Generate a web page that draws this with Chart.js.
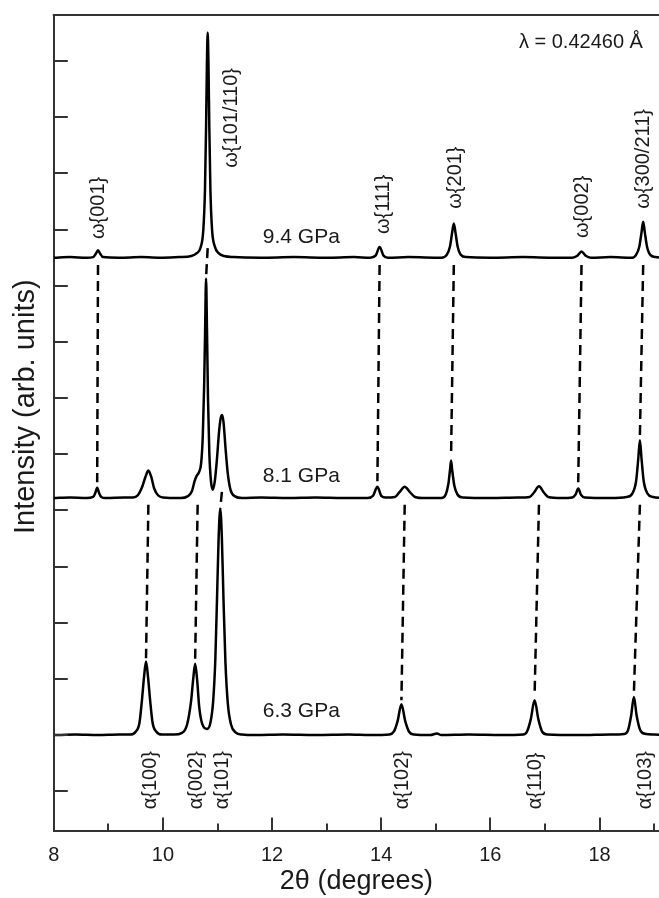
<!DOCTYPE html>
<html>
<head>
<meta charset="utf-8">
<script src="https://cdn.jsdelivr.net/npm/chart.js@4.4.0/dist/chart.umd.min.js"></script>
<style>
  html, body { margin: 0; padding: 0; background: #fff; overflow: hidden; }
</style>
</head>
<body>
<canvas id="xrd" width="659" height="898"></canvas>
<script>
// XRD patterns at three pressures, stacked with vertical offsets

// pattern points: [2theta, intensity above its own baseline]
const pts94 = [
  [8.0,0],[8.3,0.01],[8.6,0],[8.72,0.01],[8.77,0.07],[8.81,0.13],[8.85,0.07],[8.9,0.01],[9.2,0],[9.6,0.01],
  [10.0,0],[10.3,0.01],[10.52,0.03],[10.62,0.08],[10.69,0.18],[10.74,0.5],[10.77,1.2],[10.79,2.3],[10.805,3.4],
  [10.82,4.01],[10.835,3.4],[10.85,2.3],[10.87,1.2],[10.9,0.5],[10.95,0.2],[11.02,0.08],[11.12,0.03],[11.3,0.01],
  [11.8,0],[12.4,0.01],[13.0,0],[13.5,0.01],[13.8,0],[13.9,0.04],[13.97,0.19],[14.04,0.04],[14.12,0],[14.5,0.01],
  [15.1,0],[15.2,0.05],[15.26,0.2],[15.3,0.45],[15.33,0.61],[15.36,0.45],[15.4,0.2],[15.46,0.05],[15.56,0.01],
  [16.0,0],[16.6,0.01],[17.2,0],[17.5,0],[17.6,0.04],[17.67,0.11],[17.74,0.04],[17.84,0],[18.2,0.01],
  [18.6,0],[18.67,0.05],[18.73,0.2],[18.77,0.45],[18.8,0.64],[18.83,0.45],[18.87,0.2],[18.93,0.05],[19.03,0.01],[19.2,0]
];
const pts81 = [
  [8.0,0],[8.3,0.01],[8.6,0],[8.72,0.02],[8.76,0.09],[8.795,0.185],[8.83,0.09],[8.87,0.02],[8.95,0],[9.3,0.01],
  [9.45,0.01],[9.54,0.05],[9.62,0.2],[9.68,0.38],[9.733,0.49],[9.785,0.38],[9.84,0.17],[9.91,0.05],[10.0,0.01],
  [10.33,0],[10.45,0.03],[10.53,0.12],[10.58,0.3],[10.62,0.4],[10.66,0.46],[10.7,0.62],[10.73,1.1],[10.755,2.0],
  [10.773,3.0],[10.79,3.91],[10.807,3.0],[10.825,1.8],[10.85,0.8],[10.88,0.3],[10.91,0.15],[10.95,0.3],[10.99,0.7],
  [11.03,1.2],[11.06,1.43],[11.085,1.48],[11.11,1.35],[11.15,0.85],[11.19,0.42],[11.24,0.14],[11.32,0.03],[11.45,0],
  [11.8,0.01],[12.3,0],[12.8,0.01],[13.3,0],[13.75,0],[13.85,0.04],[13.93,0.2],[14.0,0.04],[14.08,0.01],
  [14.25,0.02],[14.33,0.1],[14.43,0.2],[14.53,0.1],[14.62,0.02],[14.8,0],[15.1,0],[15.18,0.06],[15.23,0.25],
  [15.26,0.5],[15.28,0.67],[15.3,0.5],[15.34,0.22],[15.4,0.06],[15.5,0.01],[16.0,0],[16.5,0.01],[16.72,0.02],
  [16.8,0.1],[16.89,0.21],[16.98,0.1],[17.06,0.02],[17.3,0],[17.5,0.01],[17.56,0.06],[17.61,0.17],[17.66,0.06],
  [17.73,0.01],[18.2,0],[18.5,0.02],[18.6,0.08],[18.67,0.3],[18.71,0.7],[18.74,1.03],[18.77,0.7],[18.81,0.3],
  [18.88,0.08],[18.98,0.02],[19.2,0]
];
const pts63 = [
  [8.0,0],[8.4,0.01],[8.8,0],[9.2,0.01],[9.4,0.01],[9.5,0.06],[9.57,0.22],[9.615,0.62],[9.655,1.05],[9.69,1.31],
  [9.725,1.05],[9.765,0.62],[9.81,0.22],[9.88,0.06],[9.98,0.01],[10.2,0.01],[10.35,0.04],[10.44,0.18],[10.515,0.6],
  [10.555,1.0],[10.59,1.27],[10.625,1.0],[10.665,0.5],[10.72,0.2],[10.81,0.11],[10.87,0.22],[10.92,0.6],[10.96,1.35],
  [10.99,2.4],[11.02,3.5],[11.05,4.03],[11.08,3.5],[11.11,2.4],[11.145,1.3],[11.19,0.55],[11.25,0.18],[11.33,0.05],
  [11.45,0.01],[11.7,0],[12.2,0.01],[12.8,0],[13.4,0.01],[13.8,0],[14.15,0.01],[14.23,0.06],[14.3,0.25],[14.37,0.55],
  [14.44,0.25],[14.51,0.06],[14.6,0.01],[14.9,0],[15.02,0.03],[15.1,0],[15.6,0.01],[16.2,0],[16.6,0.01],[16.67,0.06],
  [16.74,0.28],[16.81,0.62],[16.88,0.28],[16.95,0.06],[17.05,0.01],[17.6,0],[18.2,0.01],[18.45,0.02],[18.52,0.08],
  [18.58,0.35],[18.63,0.68],[18.68,0.35],[18.75,0.08],[18.85,0.02],[19.0,0.01],[19.2,0]
];
const patterns = [pts63, pts81, pts94];
const offsets = [1.0, 5.22, 9.5];
const pressures = ['6.3 GPa', '8.1 GPa', '9.4 GPa'];
const pressureAt = [[11.83, 1.32], [11.83, 5.51], [11.83, 9.76]];

// dashed guides: [x top, y top, x bottom, y bottom]
const guides = [
  [8.81, 9.37, 8.795, 5.5], [10.82, 9.67, 10.79, 9.15], [13.97, 9.37, 13.93, 5.52],
  [15.33, 9.37, 15.28, 5.97], [17.67, 9.37, 17.61, 5.5], [18.80, 9.37, 18.74, 6.33],
  [9.733, 5.1, 9.69, 2.37], [10.636, 5.1, 10.59, 2.33], [11.08, 5.33, 11.05, 5.03],
  [14.43, 5.1, 14.37, 1.62], [16.89, 5.1, 16.81, 1.70], [18.74, 5.1, 18.63, 1.75]
];

// rotated reflection labels, text starts at (x, y) and runs upward
const omegaNames = ['ω{001}', 'ω{101/110}', 'ω{111}', 'ω{201}', 'ω{002}', 'ω{300/211}'];
const omegaX = [8.823, 11.263, 14.033, 15.367, 17.689, 18.804];
const omegaY = [9.83, 11.10, 9.92, 10.37, 9.85, 10.37];
const alphaNames = ['α{100}', 'α{002}', 'α{101}', 'α{102}', 'α{110}', 'α{103}'];
const alphaX = [9.764, 10.62, 11.093, 14.384, 16.82, 18.84];
const alphaY = -0.32;

const xTicks = [8, 9, 10, 11, 12, 13, 14, 15, 16, 17, 18, 19];
const yTicks = [0, 1, 2, 3, 4, 5, 6, 7, 8, 9, 10, 11, 12, 13];

const FONT = '"Liberation Sans", Arial, sans-serif';
const INK = '#1a1a1a';
const AXIS = '#333';
Chart.defaults.font.family = FONT;
Chart.defaults.color = INK;

const curveSets = patterns.map((p, i) => ({
  data: p.map(([x, v]) => ({x, y: v + offsets[i]})),
  borderColor: '#000', borderWidth: 2.5, pointRadius: 0,
  cubicInterpolationMode: 'monotone', fill: false
}));
const guideSets = guides.map(g => ({
  data: [{x: g[0], y: g[1]}, {x: g[2], y: g[3]}],
  borderColor: '#000', borderWidth: 2.5, borderDash: [10, 6],
  pointRadius: 0, fill: false
}));

const decor = {
  id: 'decor',
  afterDraw(chart) {
    const {ctx, chartArea: a, scales: {x, y}} = chart;
    ctx.save();
    ctx.strokeStyle = AXIS; ctx.lineWidth = 2;
    ctx.beginPath();
    ctx.moveTo(a.left - 1, a.top); ctx.lineTo(a.right, a.top);
    xTicks.forEach(v => {
      const px = Math.round(x.getPixelForValue(v));
      const len = v % 2 === 0 ? 13 : 7;
      ctx.moveTo(px, a.bottom); ctx.lineTo(px, a.bottom - len);
    });
    yTicks.forEach(v => {
      const py = Math.round(y.getPixelForValue(v));
      ctx.moveTo(a.left, py); ctx.lineTo(a.left + 14, py);
    });
    ctx.stroke();

    ctx.fillStyle = INK;
    ctx.font = '21px ' + FONT;
    ctx.textAlign = 'left'; ctx.textBaseline = 'alphabetic';
    pressures.forEach((t, i) => ctx.fillText(t, x.getPixelForValue(pressureAt[i][0]), y.getPixelForValue(pressureAt[i][1])));

    ctx.font = '20px ' + FONT;
    ctx.textAlign = 'right';
    ctx.fillText('λ = 0.42460 Å', x.getPixelForValue(18.795), y.getPixelForValue(13.24));

    const vertical = (t, vx, vy) => {
      ctx.save();
      ctx.translate(x.getPixelForValue(vx), y.getPixelForValue(vy));
      ctx.rotate(-Math.PI / 2);
      ctx.textAlign = 'left'; ctx.textBaseline = 'middle';
      ctx.fillText(t, 0, 0);
      ctx.restore();
    };
    ctx.font = '20px ' + FONT;
    omegaNames.forEach((t, i) => vertical(t, omegaX[i], omegaY[i]));
    alphaNames.forEach((t, i) => vertical(t, alphaX[i], alphaY));
    ctx.restore();
  }
};

new Chart(document.getElementById('xrd'), {
  type: 'line',
  data: {datasets: [...curveSets, ...guideSets]},
  options: {
    responsive: false,
    animation: false,
    events: [],
    layout: {padding: {top: 15, right: 0, bottom: 0, left: 0}},
    plugins: {legend: {display: false}, tooltip: {enabled: false}},
    scales: {
      x: {
        type: 'linear', min: 8, max: 19.09,
        grid: {display: false, drawTicks: false},
        border: {display: true, color: AXIS, width: 2},
        ticks: {
          stepSize: 1, autoSkip: false, includeBounds: false, padding: 13,
          font: {size: 20}, color: INK, maxRotation: 0,
          callback: v => (v % 2 === 0 ? v : '')
        },
        title: {display: true, text: '2θ (degrees)', font: {size: 27}, color: INK, padding: {top: -15, bottom: 0}},
        afterFit(scale) { scale.paddingRight = 0; }
      },
      y: {
        type: 'linear', min: -0.7, max: 13.82,
        grid: {display: false, drawTicks: false},
        border: {display: true, color: AXIS, width: 2},
        ticks: {display: false},
        title: {display: true, text: '    Intensity (arb. units)', font: {size: 29}, color: INK, padding: {top: 9, bottom: 10}}
      }
    }
  },
  plugins: [decor]
});
</script>
</body>
</html>
